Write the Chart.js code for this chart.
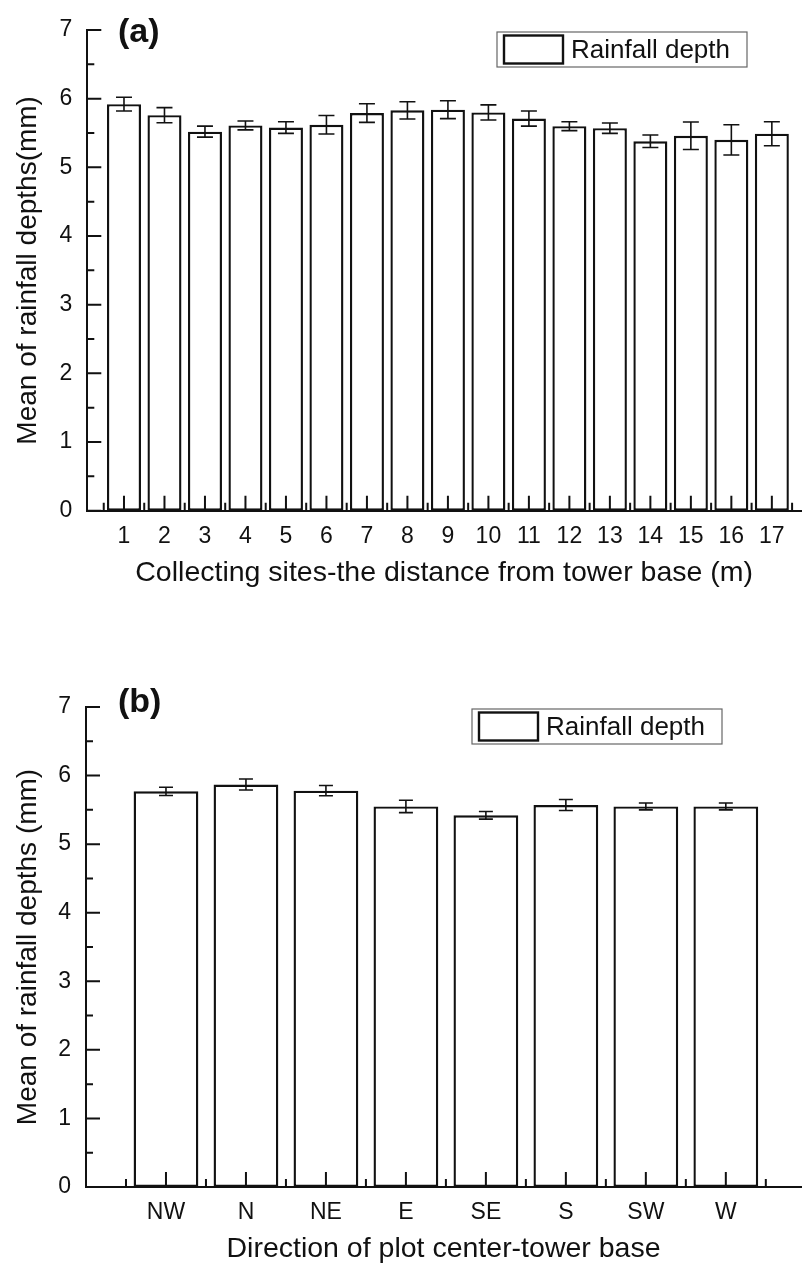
<!DOCTYPE html>
<html>
<head>
<meta charset="utf-8">
<script src="https://cdn.jsdelivr.net/npm/chart.js@4.4.0/dist/chart.umd.min.js"></script>
<style>
  html, body { margin: 0; padding: 0; background: #fff; }
  body { width: 802px; height: 1264px; position: relative; overflow: hidden; }
  .panel { position: absolute; left: 0; width: 802px; }
  #wrapA { top: 0; height: 620px; }
  #wrapB { top: 677px; height: 587px; }
</style>
</head>
<body>
<div class="panel" id="wrapA"><canvas id="chartA"></canvas></div>
<div class="panel" id="wrapB"><canvas id="chartB"></canvas></div>
<script>
// panel (a): collecting sites
const siteLabels = ['1','2','3','4','5','6','7','8','9','10','11','12','13','14','15','16','17'];
const siteMeans  = [5.92, 5.76, 5.52, 5.61, 5.58, 5.62, 5.79, 5.83, 5.84, 5.80, 5.71, 5.60, 5.57, 5.38, 5.46, 5.40, 5.49];
const siteErrors = [0.10, 0.11, 0.08, 0.065, 0.085, 0.135, 0.135, 0.125, 0.13, 0.11, 0.11, 0.065, 0.075, 0.09, 0.20, 0.22, 0.175];

// panel (b): directions
const directionLabels = ['NW','N','NE','E','SE','S','SW','W'];
const directionMeans  = [5.77, 5.87, 5.78, 5.55, 5.42, 5.57, 5.55, 5.55];
const directionErrors = [0.06, 0.08, 0.075, 0.09, 0.055, 0.08, 0.05, 0.05];

const yTicks = [0, 1, 2, 3, 4, 5, 6, 7];

const ink = '#111';
const family = "'Liberation Sans', Arial, sans-serif";

const errorBars = {
  id: 'errorBars',
  afterDatasetsDraw(chart, args, opts) {
    const {ctx, scales: {x, y}} = chart;
    ctx.save();
    ctx.strokeStyle = ink;
    ctx.lineWidth = 1.6;
    ctx.beginPath();
    opts.means.forEach((m, i) => {
      const px = x.getPixelForValue(i + 1);
      const top = y.getPixelForValue(m + opts.errors[i]);
      const bot = y.getPixelForValue(m - opts.errors[i]);
      ctx.moveTo(px, top); ctx.lineTo(px, bot);
      ctx.moveTo(px - opts.cap, top); ctx.lineTo(px + opts.cap, top);
      ctx.moveTo(px - opts.cap, bot); ctx.lineTo(px + opts.cap, bot);
    });
    ctx.stroke();
    ctx.restore();
  }
};

// origin style ticks pointing into the plot
const inwardTicks = {
  id: 'inwardTicks',
  afterDraw(chart, args, opts) {
    const {ctx, scales: {x, y}} = chart;
    ctx.save();
    ctx.strokeStyle = ink;
    ctx.lineWidth = 2;
    ctx.beginPath();
    yTicks.forEach((v, i) => {
      const py = y.getPixelForValue(v);
      ctx.moveTo(x.left, py); ctx.lineTo(x.left + 14, py);
      if (i < yTicks.length - 1) {
        const pm = y.getPixelForValue((v + yTicks[i + 1]) / 2);
        ctx.moveTo(x.left, pm); ctx.lineTo(x.left + 7, pm);
      }
    });
    const n = opts.labels.length;
    for (let i = 0; i <= n; i++) {
      const pm = x.getPixelForValue(i + 0.5);
      ctx.moveTo(pm, y.bottom); ctx.lineTo(pm, y.bottom - 8);
      if (i < n) {
        const px = x.getPixelForValue(i + 1);
        ctx.moveTo(px, y.bottom); ctx.lineTo(px, y.bottom - 15);
      }
    }
    ctx.stroke();
    ctx.restore();
  }
};

const boxLegend = {
  id: 'boxLegend',
  afterDraw(chart, args, opts) {
    const {ctx} = chart;
    const ds = chart.data.datasets[0];
    ctx.save();
    ctx.strokeStyle = '#666';
    ctx.lineWidth = 1.2;
    ctx.strokeRect(opts.x, opts.y, opts.w, opts.h);
    ctx.strokeStyle = ds.borderColor;
    ctx.lineWidth = 2.4;
    ctx.strokeRect(opts.x + 7, opts.y + 3.5, 59, 28);
    ctx.fillStyle = ink;
    ctx.textBaseline = 'middle';
    ctx.font = `26px ${family}`;
    ctx.fillText(ds.label, opts.x + 74, opts.y + opts.h / 2 + 1);
    ctx.font = `bold 34px ${family}`;
    ctx.fillText(opts.tag, opts.tagX, opts.tagY);
    ctx.restore();
  }
};

function makePanel(id, p) {
  return new Chart(document.getElementById(id), {
    type: 'bar',
    data: {
      datasets: [{
        label: 'Rainfall depth',
        data: p.means.map((m, i) => ({x: i + 1, y: m})),
        backgroundColor: '#fff',
        borderColor: ink,
        borderWidth: 2.4,
        borderSkipped: false,
        barPercentage: p.barPct,
        categoryPercentage: 1
      }]
    },
    options: {
      responsive: true,
      maintainAspectRatio: false,
      animation: false,
      layout: {padding: {top: 30, right: 1, left: 0, bottom: 0}},
      plugins: {
        legend: {display: false},
        tooltip: {enabled: false},
        errorBars: {means: p.means, errors: p.errors, cap: p.cap},
        inwardTicks: {labels: p.labels},
        boxLegend: {x: p.legendX, y: 32, w: 250, h: 35, tag: p.tag, tagX: 118, tagY: p.tagY}
      },
      scales: {
        x: {
          type: 'linear',
          offset: false,
          min: p.xMin,
          max: p.xMax,
          grid: {display: false, drawTicks: false, offset: false},
          border: {display: true, color: ink, width: 2},
          afterBuildTicks: s => { s.ticks = p.labels.map((_, i) => ({value: i + 1})); },
          afterFit: s => { s.height = p.xHeight; },
          ticks: {
            callback: (v, i) => p.labels[i],
            font: {family, size: 23},
            color: ink,
            padding: 12,
            maxRotation: 0,
            autoSkip: false
          },
          title: {
            display: true,
            text: p.xTitle,
            color: ink,
            font: {family, size: 28.5, lineHeight: 1},
            padding: {top: 0, bottom: p.xTitlePad}
          }
        },
        y: {
          min: 0,
          max: 7,
          grid: {display: false, drawTicks: false},
          border: {display: true, color: ink, width: 2},
          afterBuildTicks: s => { s.ticks = yTicks.map(v => ({value: v})); },
          afterFit: s => { s.width = p.yWidth; },
          ticks: {font: {family, size: 23}, color: ink, padding: 15},
          title: {
            display: true,
            text: p.yTitle,
            color: ink,
            font: {family, size: 28, lineHeight: 1},
            padding: {top: 14, bottom: 0}
          }
        }
      }
    },
    plugins: [errorBars, inwardTicks, boxLegend]
  });
}

makePanel('chartA', {
  labels: siteLabels, means: siteMeans, errors: siteErrors,
  xMin: 0.094, xMax: 17.72, barPct: 0.84, cap: 8,
  yWidth: 87.3, xHeight: 109.3, xTitlePad: 33,
  xTitle: 'Collecting sites-the distance from tower base (m)',
  yTitle: 'Mean of rainfall depths(mm)',
  legendX: 497, tag: '(a)', tagY: 33
});

makePanel('chartB', {
  labels: directionLabels, means: directionMeans, errors: directionErrors,
  xMin: 0, xMax: 8.94, barPct: 0.81, cap: 7,
  yWidth: 86, xHeight: 77, xTitlePad: 1,
  xTitle: 'Direction of plot center-tower base',
  yTitle: 'Mean of rainfall depths (mm)',
  legendX: 472, tag: '(b)', tagY: 26
});
</script>
</body>
</html>
